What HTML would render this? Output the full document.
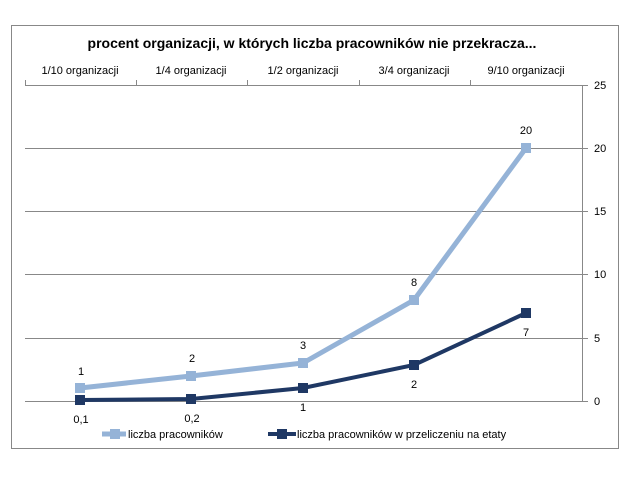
<!DOCTYPE html>
<html><head><meta charset="utf-8"><style>
body{margin:0;background:#fff;width:624px;height:472px;overflow:hidden}
text{font-family:"Liberation Sans",sans-serif;fill:#000}
</style></head><body>
<svg width="624" height="472" xmlns="http://www.w3.org/2000/svg">
<rect x="11.5" y="25.5" width="607" height="423" fill="#fff" stroke="#888"/>
<text x="312" y="48" font-size="14" font-weight="bold" text-anchor="middle">procent organizacji, w których liczba pracowników nie przekracza...</text>
<g font-size="11" text-anchor="middle" fill="#222">
<text x="80" y="74">1/10 organizacji</text><text x="191" y="74">1/4 organizacji</text><text x="303" y="74">1/2 organizacji</text><text x="414" y="74">3/4 organizacji</text><text x="526" y="74">9/10 organizacji</text>
</g>
<g stroke="#888" stroke-width="1">
<line x1="25" y1="85.5" x2="588" y2="85.5"/>
<line x1="25" y1="148.5" x2="588" y2="148.5"/>
<line x1="25" y1="211.5" x2="588" y2="211.5"/>
<line x1="25" y1="274.5" x2="588" y2="274.5"/>
<line x1="25" y1="338.5" x2="588" y2="338.5"/>
<line x1="25" y1="401.5" x2="588" y2="401.5"/>
<line x1="582.5" y1="85" x2="582.5" y2="401"/>
<line x1="25.5" y1="80" x2="25.5" y2="85"/><line x1="136.5" y1="80" x2="136.5" y2="85"/><line x1="247.5" y1="80" x2="247.5" y2="85"/><line x1="359.5" y1="80" x2="359.5" y2="85"/><line x1="470.5" y1="80" x2="470.5" y2="85"/>
</g>
<g font-size="11" fill="#222">
<text x="594" y="89">25</text><text x="594" y="152">20</text><text x="594" y="215">15</text><text x="594" y="278">10</text><text x="594" y="342">5</text><text x="594" y="405">0</text>
</g>
<polyline points="80,388 191,376 303,363 414,300 526,148" fill="none" stroke="#95b3d7" stroke-width="5"/>
<g fill="#95b3d7"><rect x="75" y="383" width="10" height="10"/><rect x="186" y="371" width="10" height="10"/><rect x="298" y="358" width="10" height="10"/><rect x="409" y="295" width="10" height="10"/><rect x="521" y="143" width="10" height="10"/></g>
<polyline points="80,400 191,399 303,388 414,365 526,313" fill="none" stroke="#1f3864" stroke-width="4"/>
<g fill="#1f3864"><rect x="75" y="395" width="10" height="10"/><rect x="186" y="394" width="10" height="10"/><rect x="298" y="383" width="10" height="10"/><rect x="409" y="360" width="10" height="10"/><rect x="521" y="308" width="10" height="10"/></g>
<g font-size="11" text-anchor="middle">
<text x="81" y="375">1</text><text x="192" y="362">2</text><text x="303" y="349">3</text><text x="414" y="286">8</text><text x="526" y="134">20</text>
<text x="81" y="423">0,1</text><text x="192" y="422">0,2</text><text x="303" y="411">1</text><text x="414" y="388">2</text><text x="526" y="336">7</text>
</g>
<line x1="102" y1="434" x2="126" y2="434" stroke="#95b3d7" stroke-width="5"/><rect x="110" y="429" width="10" height="10" fill="#95b3d7"/>
<text x="128" y="438" font-size="11" fill="#222">liczba pracowników</text>
<line x1="268" y1="434" x2="296" y2="434" stroke="#1f3864" stroke-width="4"/><rect x="277" y="429" width="10" height="10" fill="#1f3864"/>
<text x="297" y="438" font-size="11" fill="#222">liczba pracowników w przeliczeniu na etaty</text>
</svg>
</body></html>
